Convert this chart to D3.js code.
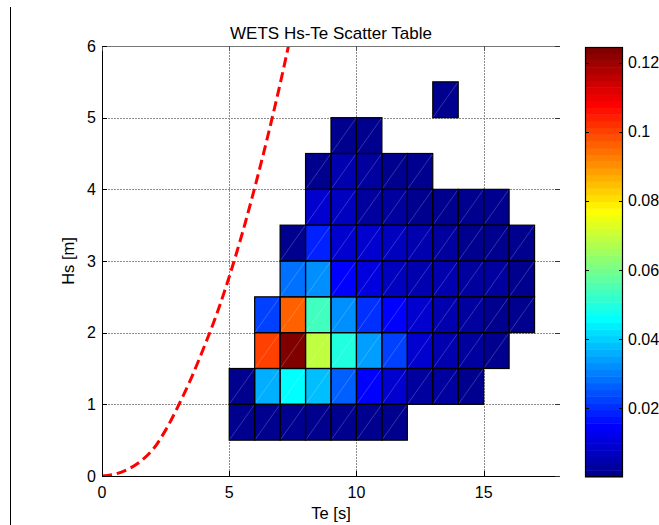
<!DOCTYPE html>
<html><head><meta charset="utf-8">
<script src="https://cdn.jsdelivr.net/npm/d3@7"></script>
<style>
body{margin:0;background:#fff}
svg{display:block}
text{font-family:"Liberation Sans",Arial,sans-serif;fill:#000}
</style>
</head><body>
<svg id="c" width="659" height="525"></svg>
<script>
// ---- data ----
const teEdges = [5,6,7,8,9,10,11,12,13,14,15,16,17];
const hsEdges = [0.5,1,1.5,2,2.5,3,3.5,4,4.5,5,5.5];
// rows: Hs 0.5-1.0 (bottom) ... 5.0-5.5 (top); columns: Te 5-6 ... 16-17
const probability = [
 [0.0015,0.0018,0.0018,0.0017,0.0015,0.0012,0.0008,null,null,null,null,null],
 [0.0015,0.036,0.046,0.038,0.026,0.015,0.009,0.003,0.002,0.0015,null,null],
 [null,0.1004,0.1245,0.069,0.050,0.034,0.0225,0.009,0.005,0.002,0.0015,null],
 [null,0.0225,0.096,0.054,0.033,0.0205,0.014,0.009,0.005,0.002,0.0015,0.001],
 [null,null,0.028,0.032,0.015,0.011,0.007,0.005,0.004,0.002,0.002,0.001],
 [null,null,0.0015,0.0185,0.009,0.008,0.006,0.004,0.003,0.0015,0.0015,0.001],
 [null,null,null,0.008,0.006,0.003,0.002,0.0015,0.0015,0.0015,0.001,null],
 [null,null,null,0.0015,0.004,0.002,0.0015,0.001,null,null,null,null],
 [null,null,null,null,0.0015,0.0015,null,null,null,null,null,null],
 [null,null,null,null,null,null,null,null,0.0012,null,null,null]
];
const colorLimits = [0, 0.1245];
const colorTicks = [0.02,0.04,0.06,0.08,0.1,0.12];
const xTicks = [0,5,10,15];
const yTicks = [0,1,2,3,4,5,6];
const xGrid = [5,10,15];
const yGrid = [1,2,3,4,5];
// steepness limit curve
const curveTe = [0,0.5,1,1.5,2,2.5,3,3.5,4,4.5,5,5.5,6,6.5,7,7.45];
const curveHs = [0,0.025,0.09,0.2,0.37,0.64,0.98,1.36,1.79,2.25,2.78,3.37,4.02,4.72,5.47,6.2];

// ---- jet colormap (MATLAB jet(64)) ----
function jet(n){
  const m = Math.ceil(n/4), u = [];
  for(let i=1;i<=m;i++) u.push(i/m);
  for(let i=1;i<m;i++) u.push(1);
  for(let i=m;i>=1;i--) u.push(i/m);
  const g0 = Math.ceil(m/2) - (n%4===1?1:0);
  const J = d3.range(n).map(()=>[0,0,0]);
  u.forEach((v,k)=>{
    const gi=g0+1+k, ri=gi+m, bi=gi-m;
    if(ri>=1&&ri<=n) J[ri-1][0]=v;
    if(gi>=1&&gi<=n) J[gi-1][1]=v;
    if(bi>=1&&bi<=n) J[bi-1][2]=v;
  });
  return J.map(c=>d3.rgb(c[0]*255,c[1]*255,c[2]*255).formatHex());
}
const cmap = jet(64);
function colorOf(v){
  let i = Math.floor((v-colorLimits[0])/(colorLimits[1]-colorLimits[0])*cmap.length);
  i = Math.max(0, Math.min(cmap.length-1, i));
  return cmap[i];
}

// ---- layout ----
const L=102, R=560, T=46, B=476;
const svg = d3.select("#c");
const x = d3.scaleLinear().domain([0,18]).range([L,R]);
const y = d3.scaleLinear().domain([0,6]).range([B,T]);

// figure edge line
svg.append("line").attr("x1",10.5).attr("x2",10.5).attr("y1",7).attr("y2",525)
  .attr("stroke","#000").attr("stroke-width",1);

// grid
const grid = svg.append("g").attr("stroke","#8c8c8c").attr("stroke-width",1).attr("stroke-dasharray","2,1");
xGrid.forEach(t=>grid.append("line").attr("x1",Math.round(x(t))+0.5).attr("x2",Math.round(x(t))+0.5).attr("y1",T).attr("y2",B));
yGrid.forEach(t=>grid.append("line").attr("y1",Math.round(y(t))+0.5).attr("y2",Math.round(y(t))+0.5).attr("x1",L).attr("x2",R));

// cells
const cells = [];
probability.forEach((row,ri)=>row.forEach((v,ci)=>{
  if(v!==null) cells.push({te0:teEdges[ci],te1:teEdges[ci+1],hs0:hsEdges[ri],hs1:hsEdges[ri+1],v});
}));
const cg = svg.append("g");
cg.selectAll("rect").data(cells).join("rect")
  .attr("x",d=>x(d.te0)).attr("y",d=>y(d.hs1))
  .attr("width",d=>x(d.te1)-x(d.te0)).attr("height",d=>y(d.hs0)-y(d.hs1))
  .attr("fill",d=>colorOf(d.v));
cg.selectAll("line.diag").data(cells).join("line").attr("class","diag")
  .attr("x1",d=>x(d.te0)).attr("y1",d=>y(d.hs0)).attr("x2",d=>x(d.te1)).attr("y2",d=>y(d.hs1))
  .attr("stroke","#fff").attr("stroke-opacity",0.25).attr("stroke-width",0.8);
cg.selectAll("rect.edge").data(cells).join("rect").attr("class","edge")
  .attr("x",d=>x(d.te0)).attr("y",d=>y(d.hs1))
  .attr("width",d=>x(d.te1)-x(d.te0)).attr("height",d=>y(d.hs0)-y(d.hs1))
  .attr("fill","none").attr("stroke","#000").attr("stroke-width",1.2);

// curve
svg.append("clipPath").attr("id","clip").append("rect").attr("x",L).attr("y",T).attr("width",R-L).attr("height",B-T);
const line = d3.line().x(d=>x(d[0])).y(d=>y(d[1])).curve(d3.curveCatmullRom);
svg.append("path").attr("clip-path","url(#clip)")
  .attr("d",line(curveTe.map((t,i)=>[t,curveHs[i]])))
  .attr("fill","none").attr("stroke","#ff0000").attr("stroke-width",3).attr("stroke-dasharray","10,5");

// axes box
svg.append("line").attr("x1",L).attr("x2",R).attr("y1",T+0.5).attr("y2",T+0.5).attr("stroke","#777");
svg.append("line").attr("x1",L+0.5).attr("x2",L+0.5).attr("y1",T).attr("y2",B).attr("stroke","#000");
svg.append("line").attr("x1",L).attr("x2",R).attr("y1",B+0.5).attr("y2",B+0.5).attr("stroke","#000");

// ticks
const tk = svg.append("g").attr("stroke","#000").attr("stroke-width",1);
xTicks.forEach(t=>{
  const px=Math.round(x(t))+0.5;
  tk.append("line").attr("x1",px).attr("x2",px).attr("y1",B).attr("y2",B-5);
  tk.append("line").attr("x1",px).attr("x2",px).attr("y1",T).attr("y2",T+5).attr("stroke","#555");
});
yTicks.forEach(t=>{
  const py=Math.round(y(t))+0.5;
  tk.append("line").attr("x1",L).attr("x2",L+5).attr("y1",py).attr("y2",py);
  tk.append("line").attr("x1",R).attr("x2",R-5).attr("y1",py).attr("y2",py).attr("stroke","#333");
});

// tick labels
svg.append("g").selectAll("text").data(xTicks).join("text")
  .attr("x",d=>x(d)).attr("y",498).attr("text-anchor","middle").attr("font-size",16).text(d=>d);
svg.append("g").selectAll("text").data(yTicks).join("text")
  .attr("x",96).attr("y",d=>y(d)).attr("dy","0.36em").attr("text-anchor","end").attr("font-size",16).text(d=>d);

// titles
svg.append("text").attr("x",(L+R)/2).attr("y",39).attr("text-anchor","middle").attr("font-size",17).text("WETS Hs-Te Scatter Table");
svg.append("text").attr("x",(L+R)/2).attr("y",519).attr("text-anchor","middle").attr("font-size",16.5).text("Te [s]");
svg.append("text").attr("transform",`translate(74,${(T+B)/2}) rotate(-90)`).attr("text-anchor","middle").attr("font-size",16.5).text("Hs [m]");

// colorbar
const CL=585, CR=623, CT=47, CB=477;
const cy = d3.scaleLinear().domain(colorLimits).range([CB,CT]);
const step = (colorLimits[1]-colorLimits[0])/cmap.length;
svg.append("g").selectAll("rect").data(cmap).join("rect")
  .attr("x",CL).attr("width",CR-CL)
  .attr("y",(d,i)=>cy(colorLimits[0]+(i+1)*step))
  .attr("height",(d,i)=>cy(colorLimits[0]+i*step)-cy(colorLimits[0]+(i+1)*step)+0.5)
  .attr("fill",d=>d);
svg.append("rect").attr("x",CL+0.5).attr("y",CT+0.5).attr("width",CR-CL-1).attr("height",CB-CT-1)
  .attr("fill","none").attr("stroke","#000").attr("stroke-width",1.2);
const ct = svg.append("g").attr("stroke","#000");
colorTicks.forEach(t=>{
  const py=Math.round(cy(t))+0.5;
  ct.append("line").attr("x1",CL).attr("x2",CL+4).attr("y1",py).attr("y2",py);
  ct.append("line").attr("x1",CR).attr("x2",CR-4).attr("y1",py).attr("y2",py);
});
svg.append("g").selectAll("text").data(colorTicks).join("text")
  .attr("x",628).attr("y",d=>cy(d)).attr("dy","0.36em").attr("font-size",16).text(d=>d);
</script>
</body></html>
